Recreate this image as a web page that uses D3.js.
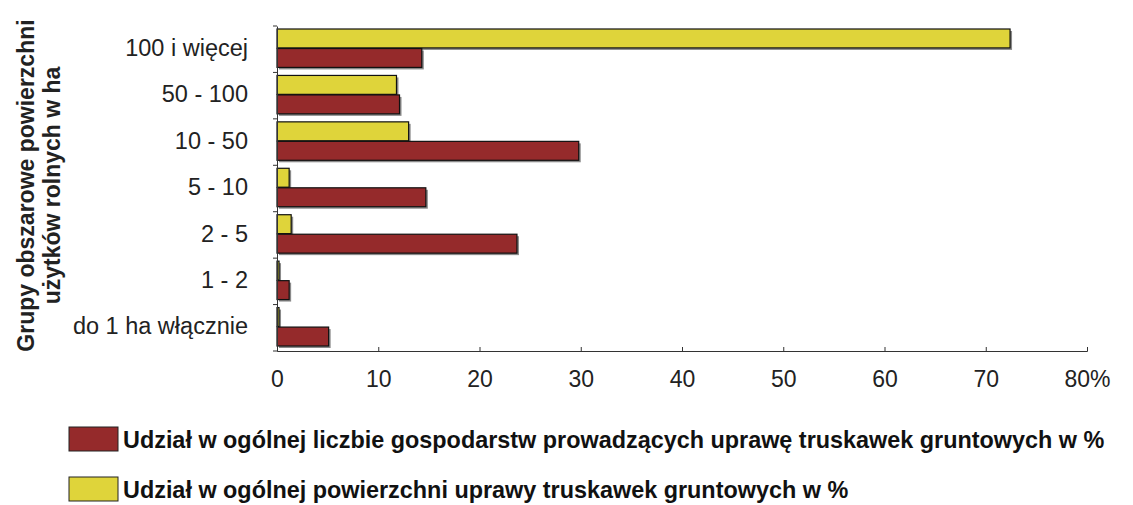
<!DOCTYPE html>
<html>
<head>
<meta charset="utf-8">
<script src="https://cdn.jsdelivr.net/npm/d3@7"></script>
<style>
  body { margin: 0; background: #fff; }
  svg { display: block; font-family: "Liberation Sans", Arial, sans-serif; }
</style>
</head>
<body>
<svg id="svg" width="1133" height="505"></svg>
<script>
// categories from top to bottom
const categories = ["100 i więcej", "50 - 100", "10 - 50", "5 - 10", "2 - 5", "1 - 2", "do 1 ha włącznie"];
// share of area (yellow) and share of farms (red), %
const areaShare = [72.4, 11.8, 13.0, 1.2, 1.4, 0.2, 0.2];
const farmShare = [14.3, 12.1, 29.8, 14.7, 23.7, 1.2, 5.1];
const xTicks = [0, 10, 20, 30, 40, 50, 60, 70, 80];
const seriesNames = [
  "Udział w ogólnej liczbie gospodarstw prowadzących uprawę truskawek gruntowych w %",
  "Udział w ogólnej powierzchni uprawy truskawek gruntowych w %"
];

const red = "#952a2b", yellow = "#dfd43a";

let svg = d3.select("#svg");
let margin = {top: 26, left: 277, right: 46, bottom: 154};
let width = +svg.attr("width") - margin.left - margin.right;
let height = +svg.attr("height") - margin.top - margin.bottom;
let g = svg.append("g").attr("transform", "translate(" + margin.left + "," + margin.top + ")");

const x = d3.scaleLinear().domain([0, 80]).range([0, width]);
const y = d3.scaleBand().domain(categories).range([0, height]);
const sub = d3.scaleBand().domain(["area", "farm"]).range([3, y.bandwidth() - 5]).paddingInner(0.03);

let rows = categories.map((c, i) => ({cat: c, area: areaShare[i], farm: farmShare[i]}));

let bars = [];
rows.forEach(r => {
  bars.push({cat: r.cat, key: "area", v: r.area, fill: yellow});
  bars.push({cat: r.cat, key: "farm", v: r.farm, fill: red});
});

// shadows
g.append("g").selectAll("rect").data(bars).enter().append("rect")
  .attr("x", 2)
  .attr("y", d => y(d.cat) + sub(d.key) + 2)
  .attr("width", d => x(d.v))
  .attr("height", sub.bandwidth())
  .attr("fill", "#8a8a8a");

g.append("g").selectAll("rect").data(bars).enter().append("rect")
  .attr("x", 0)
  .attr("y", d => y(d.cat) + sub(d.key))
  .attr("width", d => x(d.v))
  .attr("height", sub.bandwidth())
  .attr("fill", d => d.fill)
  .attr("stroke", "#111")
  .attr("stroke-width", 1.2);

// bottom axis
let xAxis = g.append("g")
  .attr("transform", "translate(0," + height + ")")
  .call(d3.axisBottom(x).tickValues(xTicks).tickSize(-4).tickPadding(20)
    .tickFormat(d => d === 80 ? "80%" : d));
xAxis.select(".domain").attr("stroke", "#333");
xAxis.selectAll("line").attr("stroke", "#333");
xAxis.selectAll("text").attr("font-size", 23).attr("fill", "#222")
  .attr("font-family", "Liberation Sans, Arial, sans-serif");

// left axis
let yAxis = g.append("g").call(d3.axisLeft(y).tickSize(0).tickPadding(29));
yAxis.select(".domain").attr("stroke", "#333");
yAxis.selectAll("text").attr("font-size", 23.5).attr("fill", "#222")
  .attr("font-family", "Liberation Sans, Arial, sans-serif")
  .attr("dy", "0.28em");
g.append("g").selectAll("line")
  .data(d3.range(categories.length + 1))
  .enter().append("line")
  .attr("x1", -4).attr("x2", 0)
  .attr("y1", i => i * y.step()).attr("y2", i => i * y.step())
  .attr("stroke", "#333");

// y title
let title = svg.append("text")
  .attr("transform", "translate(26," + (margin.top + height / 2 - 3) + ") rotate(-90)")
  .attr("text-anchor", "middle")
  .attr("font-size", 23)
  .attr("font-weight", "bold")
  .attr("fill", "#222");
title.append("tspan").attr("x", 0).attr("dy", "0.35em").text("Grupy obszarowe powierzchni");
title.append("tspan").attr("x", 0).attr("dy", "1.12em").text("użytków rolnych w ha");

// legend
let legend = svg.append("g").selectAll("g")
  .data([{name: seriesNames[0], fill: red}, {name: seriesNames[1], fill: yellow}])
  .enter().append("g")
  .attr("transform", (d, i) => "translate(69," + (427 + i * 50) + ")");
legend.append("rect")
  .attr("width", 49).attr("height", 24)
  .attr("fill", d => d.fill)
  .attr("stroke", "#222").attr("stroke-width", 1);
legend.append("text")
  .attr("x", 54).attr("y", 13).attr("dy", "0.35em")
  .attr("font-size", 23.4).attr("font-weight", "bold").attr("fill", "#111")
  .text(d => d.name);
</script>
</body>
</html>
